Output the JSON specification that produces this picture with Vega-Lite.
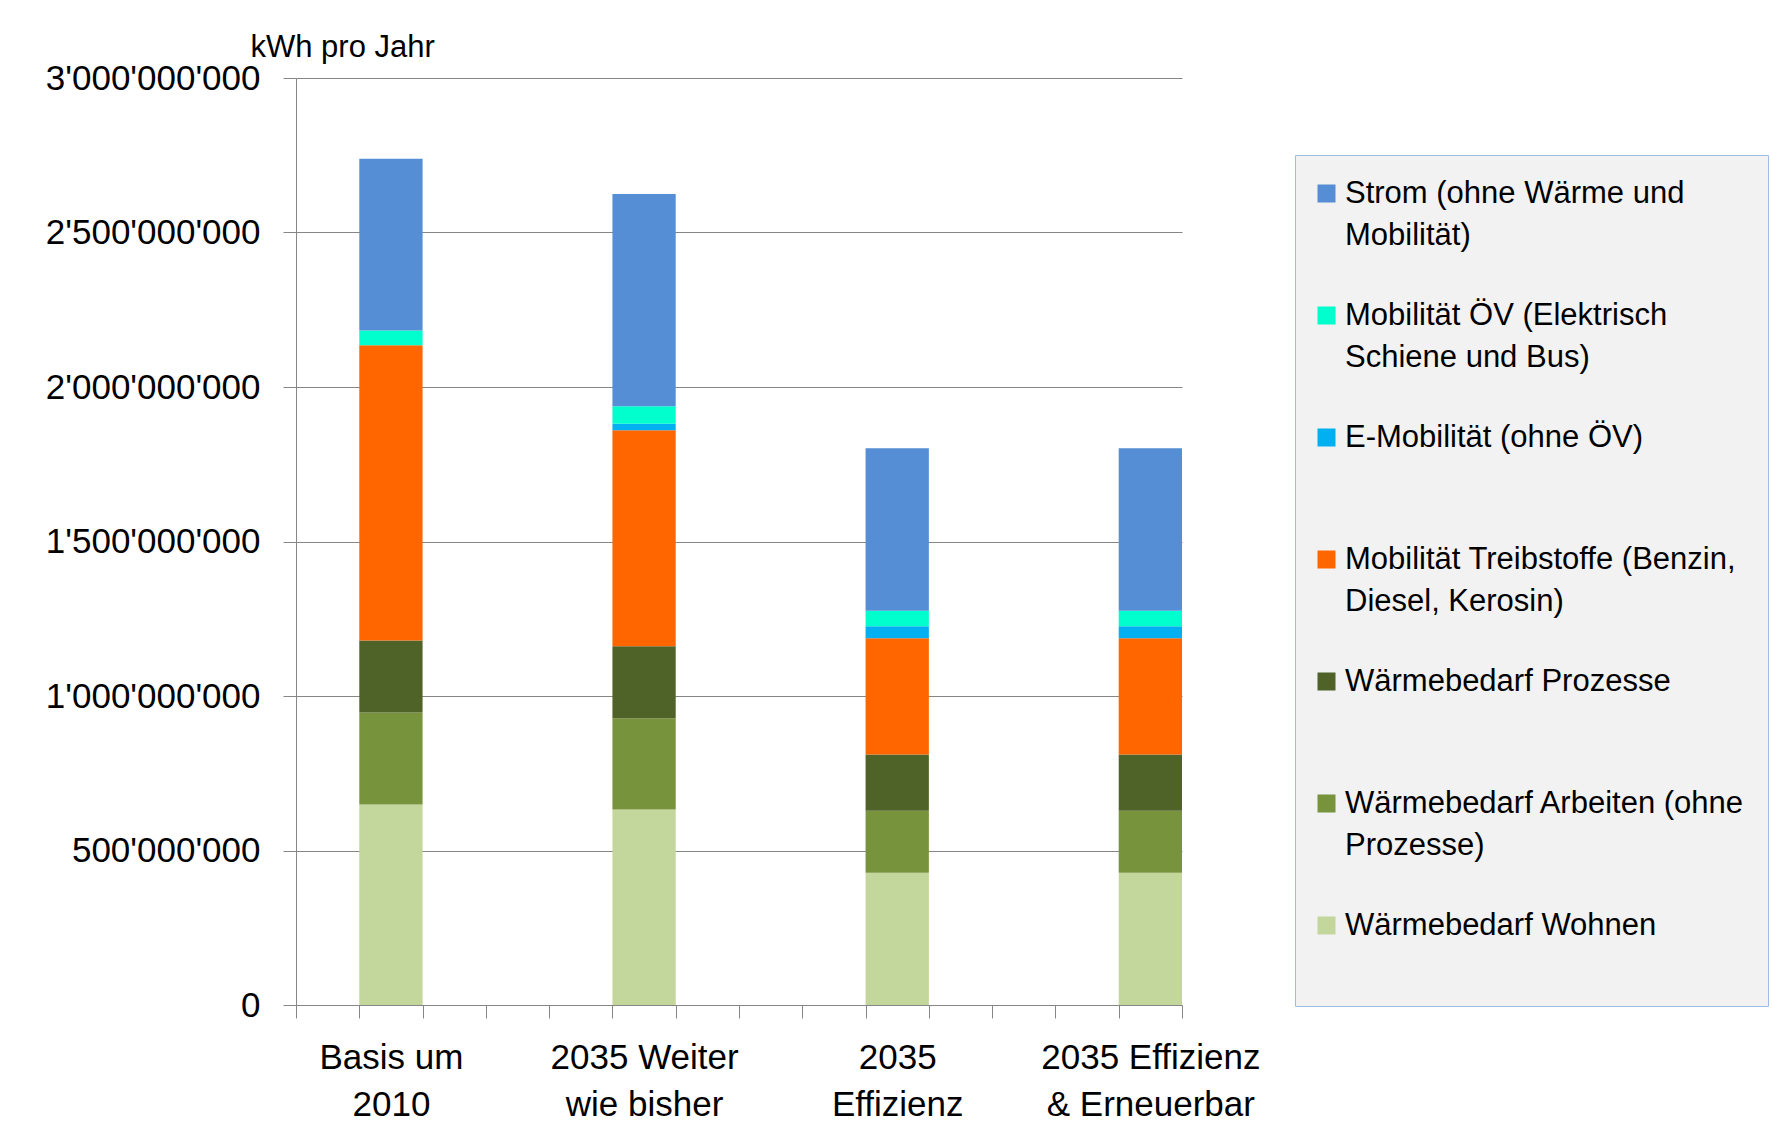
{
  "$schema": "https://vega.github.io/schema/vega-lite/v6.json",
  "width": 886,
  "height": 927,
  "autosize": {"type": "none"},
  "padding": {"left": 296, "top": 78, "right": 590, "bottom": 137},
  "background": "white",
  "config": {
    "view": {"stroke": null},
    "font": "Liberation Sans"
  },
  "datasets": {
    "kategorien": [
      {"Kategorie": "Wärmebedarf Wohnen", "Stapel": 1},
      {"Kategorie": "Wärmebedarf Arbeiten (ohne|Prozesse)", "Stapel": 2},
      {"Kategorie": "Wärmebedarf Prozesse", "Stapel": 3},
      {"Kategorie": "Mobilität Treibstoffe (Benzin,|Diesel, Kerosin)", "Stapel": 4},
      {"Kategorie": "E-Mobilität (ohne ÖV)", "Stapel": 5},
      {"Kategorie": "Mobilität ÖV (Elektrisch|Schiene und Bus)", "Stapel": 6},
      {"Kategorie": "Strom (ohne Wärme und|Mobilität)", "Stapel": 7}
    ]
  },
  "data": {
    "values": [
      {"Szenario": "Basis um|2010", "Kategorie": "Wärmebedarf Wohnen", "kWh": 649000000},
      {"Szenario": "Basis um|2010", "Kategorie": "Wärmebedarf Arbeiten (ohne|Prozesse)", "kWh": 298000000},
      {"Szenario": "Basis um|2010", "Kategorie": "Wärmebedarf Prozesse", "kWh": 233000000},
      {"Szenario": "Basis um|2010", "Kategorie": "Mobilität Treibstoffe (Benzin,|Diesel, Kerosin)", "kWh": 955000000},
      {"Szenario": "Basis um|2010", "Kategorie": "E-Mobilität (ohne ÖV)", "kWh": 0},
      {"Szenario": "Basis um|2010", "Kategorie": "Mobilität ÖV (Elektrisch|Schiene und Bus)", "kWh": 48000000},
      {"Szenario": "Basis um|2010", "Kategorie": "Strom (ohne Wärme und|Mobilität)", "kWh": 556000000},
      {"Szenario": "2035 Weiter|wie bisher", "Kategorie": "Wärmebedarf Wohnen", "kWh": 633000000},
      {"Szenario": "2035 Weiter|wie bisher", "Kategorie": "Wärmebedarf Arbeiten (ohne|Prozesse)", "kWh": 295000000},
      {"Szenario": "2035 Weiter|wie bisher", "Kategorie": "Wärmebedarf Prozesse", "kWh": 233000000},
      {"Szenario": "2035 Weiter|wie bisher", "Kategorie": "Mobilität Treibstoffe (Benzin,|Diesel, Kerosin)", "kWh": 699000000},
      {"Szenario": "2035 Weiter|wie bisher", "Kategorie": "E-Mobilität (ohne ÖV)", "kWh": 21000000},
      {"Szenario": "2035 Weiter|wie bisher", "Kategorie": "Mobilität ÖV (Elektrisch|Schiene und Bus)", "kWh": 57000000},
      {"Szenario": "2035 Weiter|wie bisher", "Kategorie": "Strom (ohne Wärme und|Mobilität)", "kWh": 687000000},
      {"Szenario": "2035|Effizienz", "Kategorie": "Wärmebedarf Wohnen", "kWh": 428000000},
      {"Szenario": "2035|Effizienz", "Kategorie": "Wärmebedarf Arbeiten (ohne|Prozesse)", "kWh": 201000000},
      {"Szenario": "2035|Effizienz", "Kategorie": "Wärmebedarf Prozesse", "kWh": 182000000},
      {"Szenario": "2035|Effizienz", "Kategorie": "Mobilität Treibstoffe (Benzin,|Diesel, Kerosin)", "kWh": 376000000},
      {"Szenario": "2035|Effizienz", "Kategorie": "E-Mobilität (ohne ÖV)", "kWh": 39000000},
      {"Szenario": "2035|Effizienz", "Kategorie": "Mobilität ÖV (Elektrisch|Schiene und Bus)", "kWh": 50000000},
      {"Szenario": "2035|Effizienz", "Kategorie": "Strom (ohne Wärme und|Mobilität)", "kWh": 526000000},
      {"Szenario": "2035 Effizienz|& Erneuerbar", "Kategorie": "Wärmebedarf Wohnen", "kWh": 428000000},
      {"Szenario": "2035 Effizienz|& Erneuerbar", "Kategorie": "Wärmebedarf Arbeiten (ohne|Prozesse)", "kWh": 201000000},
      {"Szenario": "2035 Effizienz|& Erneuerbar", "Kategorie": "Wärmebedarf Prozesse", "kWh": 182000000},
      {"Szenario": "2035 Effizienz|& Erneuerbar", "Kategorie": "Mobilität Treibstoffe (Benzin,|Diesel, Kerosin)", "kWh": 376000000},
      {"Szenario": "2035 Effizienz|& Erneuerbar", "Kategorie": "E-Mobilität (ohne ÖV)", "kWh": 39000000},
      {"Szenario": "2035 Effizienz|& Erneuerbar", "Kategorie": "Mobilität ÖV (Elektrisch|Schiene und Bus)", "kWh": 50000000},
      {"Szenario": "2035 Effizienz|& Erneuerbar", "Kategorie": "Strom (ohne Wärme und|Mobilität)", "kWh": 526000000}
    ]
  },
  "transform": [
    {"lookup": "Kategorie", "from": {"data": {"name": "kategorien"}, "key": "Kategorie", "fields": ["Stapel"]}}
  ],
  "mark": {"type": "bar"},
  "encoding": {
    "x": {
      "field": "Szenario",
      "type": "nominal",
      "sort": null,
      "scale": {
        "domain": ["_1", "Basis um|2010", "_3", "_4", "_5", "2035 Weiter|wie bisher", "_7", "_8", "_9", "2035|Effizienz", "_11", "_12", "_13", "2035 Effizienz|& Erneuerbar"],
        "paddingInner": 0,
        "paddingOuter": 0
      },
      "axis": {
        "title": null,
        "labelAngle": 0,
        "labelExpr": "(!isString(datum.value) || indexof(datum.value, '_') == 0) ? '' : split(datum.value, '|')",
        "tickBand": "extent",
        "tickSize": 13,
        "tickColor": "#868686",
        "domainColor": "#868686",
        "labelFontSize": 35,
        "labelColor": "#000000",
        "labelPadding": 22,
        "labelLineHeight": 47,
        "labelBaseline": "top",
        "labelOverlap": false,
        "labelLimit": 400,
        "grid": false
      }
    },
    "y": {
      "field": "kWh",
      "type": "quantitative",
      "stack": "zero",
      "scale": {"domain": [0, 3000000000], "nice": false},
      "axis": {
        "values": [0, 500000000, 1000000000, 1500000000, 2000000000, 2500000000, 3000000000],
        "labelExpr": "datum.value == 0 ? '0' : (datum.value < 1000000000 ? slice(toString(datum.value), 0, 3) + \"'\" + slice(toString(datum.value), 3, 6) + \"'\" + slice(toString(datum.value), 6, 9) : slice(toString(datum.value), 0, 1) + \"'\" + slice(toString(datum.value), 1, 4) + \"'\" + slice(toString(datum.value), 4, 7) + \"'\" + slice(toString(datum.value), 7, 10))",
        "labelLimit": 400,
        "title": "kWh pro Jahr",
        "titleAngle": 0,
        "titleX": -46,
        "titleY": -31,
        "titleAlign": "left",
        "titleBaseline": "middle",
        "titleFontSize": 31,
        "titleFontWeight": "normal",
        "titleColor": "#000000",
        "labelFontSize": 35,
        "labelColor": "#000000",
        "labelPadding": 23,
        "tickSize": 13,
        "tickColor": "#868686",
        "domainColor": "#868686",
        "gridColor": "#868686",
        "gridWidth": 1.2,
        "grid": true
      }
    },
    "order": {"field": "Stapel", "type": "quantitative", "sort": "ascending"},
    "color": {
      "field": "Kategorie",
      "type": "nominal",
      "scale": {
        "domain": ["Strom (ohne Wärme und|Mobilität)", "Mobilität ÖV (Elektrisch|Schiene und Bus)", "E-Mobilität (ohne ÖV)", "Mobilität Treibstoffe (Benzin,|Diesel, Kerosin)", "Wärmebedarf Prozesse", "Wärmebedarf Arbeiten (ohne|Prozesse)", "Wärmebedarf Wohnen"],
        "range": ["#558ED5", "#00FFCC", "#00B0F0", "#FF6600", "#4F6228", "#77933C", "#C3D69B"]
      },
      "legend": {
        "orient": "none",
        "legendX": 999,
        "legendY": 77,
        "title": null,
        "symbolType": "square",
        "symbolSize": 324,
        "symbolStrokeWidth": 0,
        "symbolOffset": -7,
        "labelFontSize": 31,
        "labelColor": "#000000",
        "labelLimit": 600,
        "labelOffset": 3,
        "labelExpr": "indexof(datum.label, '|') < 0 ? [datum.label, ' '] : split(datum.label, '|')",
        "rowPadding": 48,
        "padding": 23,
        "fillColor": "#F2F2F2",
        "strokeColor": "#9DBDE6",
        "gridAlign": "all",
        "encode": {"labels": {"update": {"lineHeight": {"value": 42}}}}
      }
    }
  }
}
